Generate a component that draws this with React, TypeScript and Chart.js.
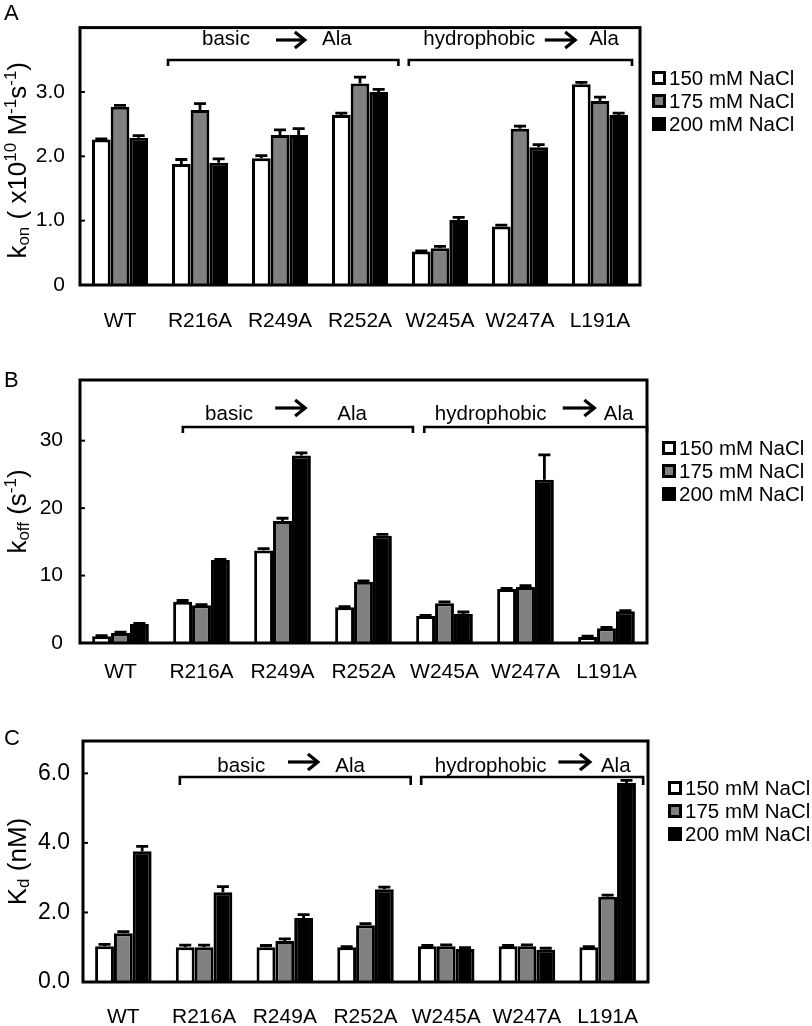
import React, { useEffect, useRef } from "react";
import { Chart, registerables } from "chart.js";

Chart.register(...registerables);

const FONT = "'Liberation Sans', Arial, Helvetica, sans-serif";
const W = 812;

// ---------------- data ----------------
const categories = ["WT", "R216A", "R249A", "R252A", "W245A", "W247A", "L191A"];
const seriesLabels = ["150 mM NaCl", "175 mM NaCl", "200 mM NaCl"];
const seriesColors = ["#ffffff", "#808080", "#000000"];

// Panel A: kon (x10^10 M^-1 s^-1)
const kon150 = [2.26, 1.88, 1.97, 2.64, 0.52, 0.91, 3.12];
const kon175 = [2.77, 2.72, 2.33, 3.13, 0.57, 2.43, 2.86];
const kon200 = [2.29, 1.9, 2.33, 3.0, 1.01, 2.14, 2.64];
const konErr150 = [0.01, 0.07, 0.04, 0.03, 0.01, 0.02, 0.03];
const konErr175 = [0.02, 0.1, 0.08, 0.1, 0.03, 0.04, 0.06];
const konErr200 = [0.03, 0.06, 0.1, 0.04, 0.04, 0.04, 0.03];
const konTicks = [0, 1, 2, 3];
const konTickLabels = ["0", "1.0", "2.0", "3.0"];

// Panel B: koff (s^-1)
const koff150 = [1.0, 6.1, 13.7, 5.3, 4.0, 8.0, 0.9];
const koff175 = [1.5, 5.6, 18.1, 9.1, 5.9, 8.3, 2.2];
const koff200 = [2.8, 12.3, 27.8, 15.9, 4.3, 24.2, 4.7];
const koffErr150 = [0.1, 0.2, 0.3, 0.1, 0.1, 0.1, 0.1];
const koffErr175 = [0.1, 0.1, 0.4, 0.1, 0.2, 0.2, 0.1];
const koffErr200 = [0.1, 0.1, 0.4, 0.2, 0.3, 3.7, 0.1];
const koffTicks = [0, 10, 20, 30];
const koffTickLabels = ["0", "10", "20", "30"];

// Panel C: Kd (nM)
const kd150 = [1.03, 1.0, 1.0, 1.0, 1.03, 1.03, 1.0];
const kd175 = [1.4, 1.0, 1.18, 1.63, 1.03, 1.03, 2.45];
const kd200 = [3.76, 2.58, 1.84, 2.67, 0.95, 0.93, 5.72];
const kdErr150 = [0.05, 0.06, 0.05, 0.02, 0.02, 0.02, 0.02];
const kdErr175 = [0.05, 0.06, 0.06, 0.05, 0.04, 0.04, 0.05];
const kdErr200 = [0.14, 0.16, 0.1, 0.06, 0.04, 0.04, 0.08];
const kdTicks = [0, 2, 4, 6];
const kdTickLabels = ["0.0", "2.0", "4.0", "6.0"];

// ---------------- layout ----------------
type Piece = { t: string; k: "main" | "sub" | "sup" };
type Group = { from: number; to: number; label: string; labelU: number; arrowFrom: number; arrowTo: number; alaU: number };
interface PanelCfg {
  letter: string;
  letterY: number;
  top: number;
  height: number;
  area: { left: number; top: number; right: number; bottom: number };
  yMax: number;
  ticks: number[];
  tickLabels: string[];
  tickFont: number;
  tickPad: number;
  xPad: number;
  series: number[][];
  errors: number[][];
  title: Piece[];
  titleShift: number;
  legend: { x: number; rows: number[] };
  notes: { bracketY: number; tickLen: number; baseline: number; arrowY: number; groups: Group[] };
}

const panels: PanelCfg[] = [
  {
    letter: "A",
    letterY: 20,
    top: 0,
    height: 340,
    area: { left: 80, top: 8, right: 640, bottom: 285 },
    yMax: 4.0,
    ticks: konTicks,
    tickLabels: konTickLabels,
    tickFont: 21,
    tickPad: 15,
    xPad: 23.5,
    series: [kon150, kon175, kon200],
    errors: [konErr150, konErr175, konErr200],
    title: [
      { t: "k", k: "main" },
      { t: "on", k: "sub" },
      { t: " ( x10", k: "main" },
      { t: "10", k: "sup" },
      { t: " M", k: "main" },
      { t: "-1", k: "sup" },
      { t: "s", k: "main" },
      { t: "-1", k: "sup" },
      { t: ")", k: "main" },
    ],
    titleShift: 4,
    legend: { x: 652, rows: [78, 101, 124] },
    notes: {
      bracketY: 60,
      tickLen: 6,
      baseline: 45,
      arrowY: 40,
      groups: [
        { from: 0.6, to: 3.48, label: "basic", labelU: 1.325, arrowFrom: 1.95, arrowTo: 2.31, alaU: 2.71 },
        { from: 3.61, to: 6.4, label: "hydrophobic", labelU: 4.49, arrowFrom: 5.31, arrowTo: 5.69, alaU: 6.05 },
      ],
    },
  },
  {
    letter: "B",
    letterY: 47,
    top: 340,
    height: 350,
    area: { left: 80, top: 40, right: 647, bottom: 303 },
    yMax: 39,
    ticks: koffTicks,
    tickLabels: koffTickLabels,
    tickFont: 21,
    tickPad: 17,
    xPad: 16.5,
    series: [koff150, koff175, koff200],
    errors: [koffErr150, koffErr175, koffErr200],
    title: [
      { t: "k", k: "main" },
      { t: "off", k: "sub" },
      { t: " (s", k: "main" },
      { t: "-1", k: "sup" },
      { t: ")", k: "main" },
    ],
    titleShift: 0,
    legend: { x: 662, rows: [108, 131, 154] },
    notes: {
      bracketY: 87,
      tickLen: 6,
      baseline: 80,
      arrowY: 68,
      groups: [
        { from: 0.77, to: 3.61, label: "basic", labelU: 1.34, arrowFrom: 1.91, arrowTo: 2.28, alaU: 2.86 },
        { from: 3.75, to: 6.5, label: "hydrophobic", labelU: 4.57, arrowFrom: 5.46, arrowTo: 5.85, alaU: 6.15 },
      ],
    },
  },
  {
    letter: "C",
    letterY: 55,
    top: 690,
    height: 336,
    area: { left: 83, top: 51, right: 648, bottom: 292 },
    yMax: 6.93,
    ticks: kdTicks,
    tickLabels: kdTickLabels,
    tickFont: 23,
    tickPad: 13,
    xPad: 23,
    series: [kd150, kd175, kd200],
    errors: [kdErr150, kdErr175, kdErr200],
    title: [
      { t: "K", k: "main" },
      { t: "d", k: "sub" },
      { t: " (nM)", k: "main" },
    ],
    titleShift: 0,
    legend: { x: 668, rows: [98, 121, 144] },
    notes: {
      bracketY: 87,
      tickLen: 8,
      baseline: 82,
      arrowY: 72,
      groups: [
        { from: 0.7, to: 3.56, label: "basic", labelU: 1.46, arrowFrom: 2.04, arrowTo: 2.41, alaU: 2.81 },
        { from: 3.69, to: 6.44, label: "hydrophobic", labelU: 4.55, arrowFrom: 5.39, arrowTo: 5.78, alaU: 6.1 },
      ],
    },
  },
];

// ---------------- drawing helpers ----------------
function drawArrow(ctx: CanvasRenderingContext2D, x1: number, x2: number, y: number) {
  ctx.save();
  ctx.strokeStyle = "#000";
  ctx.lineWidth = 3.2;
  ctx.lineCap = "butt";
  ctx.beginPath();
  ctx.moveTo(x1, y);
  ctx.lineTo(x2 - 2, y);
  ctx.stroke();
  ctx.lineJoin = "miter";
  ctx.beginPath();
  ctx.moveTo(x2 - 10, y - 8);
  ctx.lineTo(x2, y);
  ctx.lineTo(x2 - 10, y + 8);
  ctx.stroke();
  ctx.restore();
}

function makePlugin(cfg: PanelCfg) {
  return {
    id: "panelExtras" + cfg.letter,
    afterDatasetsDraw(chart: any) {
      const ctx: CanvasRenderingContext2D = chart.ctx;
      const yScale = chart.scales.y;
      ctx.save();
      ctx.strokeStyle = "#000";
      ctx.lineWidth = 2.8;
      cfg.series.forEach((vals, d) => {
        const meta = chart.getDatasetMeta(d);
        vals.forEach((v, j) => {
          const el: any = meta.data[j];
          const err = cfg.errors[d][j];
          if (!el || !err) return;
          const yTop = yScale.getPixelForValue(v + err);
          const half = Math.min(6, el.width * 0.35);
          ctx.beginPath();
          ctx.moveTo(el.x, el.y);
          ctx.lineTo(el.x, yTop);
          ctx.moveTo(el.x - half, yTop);
          ctx.lineTo(el.x + half, yTop);
          ctx.stroke();
        });
      });
      ctx.restore();
    },
    afterDraw(chart: any) {
      const ctx: CanvasRenderingContext2D = chart.ctx;
      const a = chart.chartArea;
      const xScale = chart.scales.x;
      const yScale = chart.scales.y;
      const x0 = xScale.getPixelForValue(0);
      const step = xScale.getPixelForValue(1) - x0;
      const px = (u: number) => x0 + u * step;

      ctx.save();
      // frame
      ctx.strokeStyle = "#000";
      ctx.lineWidth = 3;
      ctx.strokeRect(a.left, a.top, a.right - a.left, a.bottom - a.top);
      // inward y tick marks
      ctx.lineWidth = 2;
      cfg.ticks.forEach((t) => {
        if (t === 0) return;
        const y = yScale.getPixelForValue(t);
        ctx.beginPath();
        ctx.moveTo(a.left, y);
        ctx.lineTo(a.left + 5, y);
        ctx.stroke();
      });

      // brackets and annotations
      const n = cfg.notes;
      ctx.lineWidth = 2.6;
      ctx.lineJoin = "miter";
      n.groups.forEach((g) => {
        const l = px(g.from);
        const r = px(g.to);
        ctx.beginPath();
        ctx.moveTo(l, n.bracketY + n.tickLen);
        ctx.lineTo(l, n.bracketY);
        ctx.lineTo(r, n.bracketY);
        ctx.lineTo(r, n.bracketY + n.tickLen);
        ctx.stroke();
        ctx.fillStyle = "#000";
        ctx.font = `20.5px ${FONT}`;
        ctx.textAlign = "center";
        ctx.textBaseline = "alphabetic";
        ctx.fillText(g.label, px(g.labelU), n.baseline);
        ctx.fillText("Ala", px(g.alaU), n.baseline);
        drawArrow(ctx, px(g.arrowFrom), px(g.arrowTo), n.arrowY);
      });

      // legend
      ctx.font = `20.5px ${FONT}`;
      ctx.textAlign = "left";
      ctx.textBaseline = "middle";
      seriesLabels.forEach((lab, i) => {
        const y = cfg.legend.rows[i];
        const bx = cfg.legend.x;
        ctx.fillStyle = seriesColors[i];
        ctx.fillRect(bx, y - 7, 14, 14);
        ctx.strokeStyle = "#000";
        ctx.lineWidth = 3;
        ctx.strokeRect(bx + 1.5, y - 5.5, 11, 11);
        ctx.fillStyle = "#000";
        ctx.fillText(lab, bx + 17, y + 1);
      });

      // y-axis title (rich text, rotated)
      const mainSize = 26;
      const smallSize = 17;
      const fontFor = (k: string) => `${k === "main" ? mainSize : smallSize}px ${FONT}`;
      let total = 0;
      cfg.title.forEach((p) => {
        ctx.font = fontFor(p.k);
        total += ctx.measureText(p.t).width;
      });
      const cy = (a.top + a.bottom) / 2 + cfg.titleShift;
      ctx.translate(26, cy);
      ctx.rotate(-Math.PI / 2);
      ctx.textAlign = "left";
      ctx.textBaseline = "alphabetic";
      ctx.fillStyle = "#000";
      let x = -total / 2;
      cfg.title.forEach((p) => {
        ctx.font = fontFor(p.k);
        const dy = p.k === "sub" ? 3 : p.k === "sup" ? -10 : 0;
        ctx.fillText(p.t, x, dy);
        x += ctx.measureText(p.t).width;
      });
      ctx.setTransform(1, 0, 0, 1, 0, 0);

      // panel letter
      ctx.font = `22px ${FONT}`;
      ctx.textAlign = "left";
      ctx.textBaseline = "alphabetic";
      ctx.fillStyle = "#000";
      ctx.fillText(cfg.letter, 4, cfg.letterY);
      ctx.restore();
    },
  };
}

function Panel({ cfg }: { cfg: PanelCfg }) {
  const ref = useRef<HTMLCanvasElement>(null);
  useEffect(() => {
    if (!ref.current) return;
    const chart = new Chart(ref.current, {
      type: "bar",
      data: {
        labels: categories,
        datasets: cfg.series.map((vals, i) => ({
          label: seriesLabels[i],
          data: vals,
          backgroundColor: seriesColors[i],
          borderColor: "#000000",
          borderWidth: 3,
          barPercentage: 1.0,
          categoryPercentage: 0.7,
        })),
      },
      options: {
        animation: false,
        responsive: false,
        maintainAspectRatio: false,
        devicePixelRatio: 1,
        layout: { padding: { top: cfg.area.top, right: W - cfg.area.right, left: 0, bottom: 0 } },
        plugins: { legend: { display: false }, tooltip: { enabled: false }, title: { display: false } },
        scales: {
          x: {
            grid: { display: false, drawTicks: false },
            border: { display: false },
            ticks: {
              color: "#000",
              font: { family: FONT, size: 21 },
              padding: cfg.xPad,
              maxRotation: 0,
              autoSkip: false,
            },
            afterFit: (s: any) => {
              s.height = cfg.height - cfg.area.bottom;
            },
          },
          y: {
            min: 0,
            max: cfg.yMax,
            grid: { display: false, drawTicks: false },
            border: { display: false },
            afterBuildTicks: (s: any) => {
              s.ticks = cfg.ticks.map((v) => ({ value: v }));
            },
            ticks: {
              color: "#000",
              font: { family: FONT, size: cfg.tickFont },
              padding: cfg.tickPad,
              callback: (v: any) => {
                const idx = cfg.ticks.indexOf(Number(v));
                return idx >= 0 ? cfg.tickLabels[idx] : "";
              },
            },
            afterFit: (s: any) => {
              s.width = cfg.area.left;
            },
          },
        },
      } as any,
      plugins: [makePlugin(cfg)],
    });
    return () => chart.destroy();
  }, [cfg]);
  return (
    <canvas
      ref={ref}
      width={W}
      height={cfg.height}
      style={{ position: "absolute", left: 0, top: cfg.top, width: W, height: cfg.height, display: "block" }}
    />
  );
}

export default function App() {
  return (
    <div style={{ position: "absolute", left: 0, top: 0, width: W, height: 1026, background: "#ffffff", overflow: "hidden" }}>
      {panels.map((p) => (
        <Panel key={p.letter} cfg={p} />
      ))}
    </div>
  );
}
